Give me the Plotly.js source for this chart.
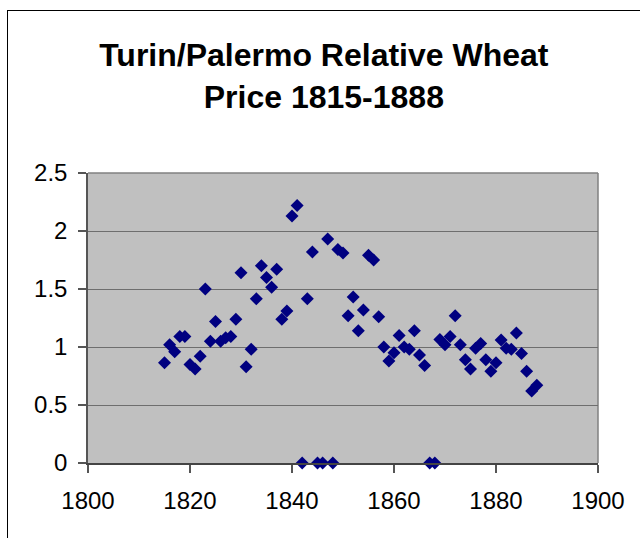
<!DOCTYPE html>
<html>
<head>
<meta charset="utf-8">
<script src="https://cdn.plot.ly/plotly-3.0.1.min.js"></script>
<style>
  html, body { margin: 0; padding: 0; background: #fff; overflow: hidden; }
  #wrap { position: relative; width: 640px; height: 538px; }
  #chart { position: absolute; left: 0; top: 0; width: 640px; height: 538px; }
  #frame { position: absolute; left: 7px; top: 10px; width: 700px; height: 600px;
           border: 1.5px solid #000; pointer-events: none; }
</style>
</head>
<body>
<div id="wrap">
  <div id="chart"></div>
  <div id="frame"></div>
</div>
<script>
const years = [
  1815, 1816, 1817, 1818, 1819, 1820, 1821, 1822, 1823, 1824,
  1825, 1826, 1827, 1828, 1829, 1830, 1831, 1832, 1833, 1834,
  1835, 1836, 1837, 1838, 1839, 1840, 1841, 1842, 1843, 1844,
  1845, 1846, 1847, 1848, 1849, 1850, 1851, 1852, 1853, 1854,
  1855, 1856, 1857, 1858, 1859, 1860, 1861, 1862, 1863, 1864,
  1865, 1866, 1867, 1868, 1869, 1870, 1871, 1872, 1873, 1874,
  1875, 1876, 1877, 1878, 1879, 1880, 1881, 1882, 1883, 1884,
  1885, 1886, 1887, 1888
];
const relativePrice = [
  0.865, 1.02, 0.96, 1.09, 1.09, 0.85, 0.81, 0.92, 1.50, 1.05,
  1.22, 1.05, 1.08, 1.09, 1.24, 1.64, 0.83, 0.98, 1.415, 1.70,
  1.60, 1.515, 1.67, 1.24, 1.31, 2.13, 2.22, 0, 1.415, 1.82,
  0, 0, 1.93, 0, 1.84, 1.81, 1.27, 1.43, 1.14, 1.32,
  1.79, 1.75, 1.26, 1.00, 0.88, 0.95, 1.10, 1.00, 0.98, 1.14,
  0.93, 0.84, 0, 0, 1.065, 1.02, 1.09, 1.27, 1.02, 0.89,
  0.81, 0.99, 1.03, 0.89, 0.79, 0.865, 1.06, 0.99, 0.98, 1.12,
  0.945, 0.79, 0.62, 0.67
];
const titleText = "Turin/Palermo Relative Wheat<br>Price 1815-1888";
const xTicks = [1800, 1820, 1840, 1860, 1880, 1900];
const yTicks = [0, 0.5, 1, 1.5, 2, 2.5];

const tickFamily = "Liberation Sans, Arial, sans-serif";

const trace = {
  type: "scatter",
  mode: "markers",
  x: years,
  y: relativePrice,
  cliponaxis: false,
  marker: { symbol: "diamond", size: 10, color: "#000080", line: { width: 0 } },
  hoverinfo: "x+y"
};

const layout = {
  width: 640,
  height: 538,
  margin: { l: 88, r: 42, t: 173, b: 75 },
  paper_bgcolor: "#ffffff",
  plot_bgcolor: "#c0c0c0",
  showlegend: false,
  font: { family: "Liberation Sans, Arial, sans-serif", color: "#000" },
  title: {
    text: titleText,
    font: { family: "Liberation Sans, Arial, sans-serif", size: 32, color: "#000", weight: "bold" },
    x: 0.506, xref: "container", xanchor: "center",
    y: 0.877, yref: "container", yanchor: "middle"
  },
  xaxis: {
    range: [1800, 1900],
    tickmode: "array",
    tickvals: xTicks,
    ticktext: xTicks.map(String),
    ticks: "outside",
    ticklen: 8,
    tickcolor: "#555",
    tickwidth: 1.5,
    ticklabelstandoff: 7,
    showline: true,
    linecolor: "#444",
    linewidth: 1.5,
    showgrid: false,
    zeroline: false,
    tickfont: { size: 24, family: tickFamily },
    fixedrange: true
  },
  yaxis: {
    range: [0, 2.5],
    tickmode: "array",
    tickvals: yTicks,
    ticktext: yTicks.map(String),
    ticks: "outside",
    ticklen: 8,
    tickcolor: "#555",
    tickwidth: 1.5,
    ticklabelstandoff: 6,
    showline: true,
    linecolor: "#555",
    linewidth: 1.5,
    showgrid: true,
    gridcolor: "#6e6e6e",
    gridwidth: 1,
    zeroline: false,
    tickfont: { size: 24, family: tickFamily },
    fixedrange: true
  },
  shapes: [
    { type: "line", xref: "paper", yref: "paper", x0: 0, x1: 1, y0: 1, y1: 1,
      line: { color: "#808080", width: 1.5 }, layer: "below" },
    { type: "line", xref: "paper", yref: "paper", x0: 1, x1: 1, y0: 0, y1: 1,
      line: { color: "#808080", width: 1.5 }, layer: "below" }
  ]
};

Plotly.newPlot("chart", [trace], layout, { displayModeBar: false });
</script>
</body>
</html>
